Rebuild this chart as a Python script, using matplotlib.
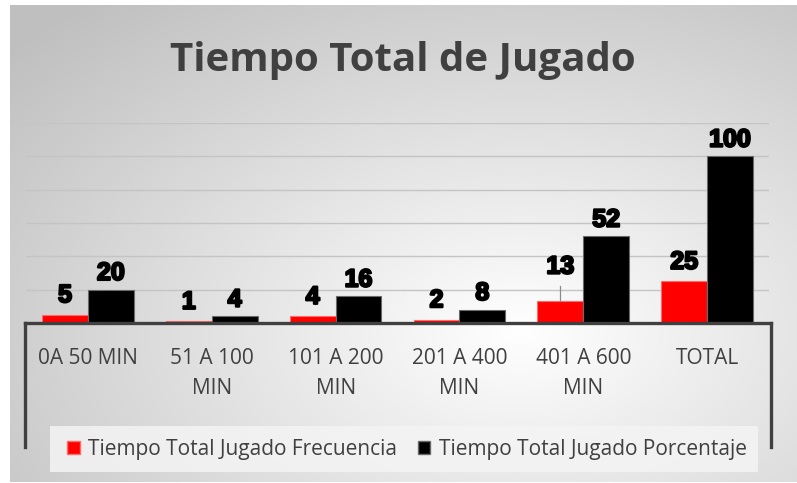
import numpy as np
import matplotlib
matplotlib.use("Agg")
import matplotlib.pyplot as plt
from matplotlib.patches import Patch
from matplotlib.lines import Line2D
import matplotlib.patheffects as pe

# ---- data ----
categories = ["0A 50 MIN", "51 A 100\nMIN", "101 A 200\nMIN", "201 A 400\nMIN", "401 A 600\nMIN", "TOTAL"]
frecuencia = [5, 1, 4, 2, 13, 25]
porcentaje = [20, 4, 16, 8, 52, 100]
series_names = ["Tiempo Total Jugado Frecuencia", "Tiempo Total Jugado Porcentaje"]
title = "Tiempo Total de Jugado"

W, H = 797, 483
fig = plt.figure(figsize=(W / 100, H / 100), dpi=100)
fig.patch.set_facecolor("white")

# ---- radial gradient background ----
bx0, bx1, by0, by1 = 10, 797, 5, 482  # pixel box (top-origin y)
bg = fig.add_axes([bx0 / W, (H - by1) / H, (bx1 - bx0) / W, (by1 - by0) / H])
xs = np.arange(bx0, bx1)
ys = np.arange(by0, by1)
X, Y = np.meshgrid(xs, ys)
cx, cy, rx, ry = 520, 330, 520, 330
d = np.sqrt(((X - cx) / rx) ** 2 + ((Y - cy) / ry) ** 2)
val = 1 - 0.25 * np.clip(d / 1.3, 0, 1)
bg.imshow(np.dstack([val, val, val]), aspect="auto", extent=[0, 1, 0, 1], origin="upper")
bg.set_axis_off()

# ---- main axes ----
left, right, base, top = 26, 769, 323, 123
ax = fig.add_axes([left / W, (H - base) / H, (right - left) / W, (base - top) / H])
ax.set_facecolor("none")
x = np.arange(len(categories))
bw = 0.37
ax.set_xlim(-0.5, len(categories) - 0.5)
ax.set_ylim(0, 120)
for gy in range(20, 121, 20):
    ax.axhline(gy, color="#c4c4c4", lw=1.0, zorder=0)

ax.bar(x - bw / 2, frecuencia, bw, color="#ff0000", edgecolor="#ff6a6a", linewidth=0.8, zorder=2)
ax.bar(x + bw / 2, porcentaje, bw, color="#000000", edgecolor="#6a6a6a", linewidth=0.8, zorder=2)

lab_kw = dict(ha="center", va="baseline", fontsize=18, fontweight="bold",
              family="Liberation Sans", color="black", zorder=4,
              path_effects=[pe.withStroke(linewidth=1.6, foreground="black")])
for i, v in enumerate(frecuencia):
    off = 9
    if i == 4:
        off = 20
        ax.plot([x[i] - bw / 2, x[i] - bw / 2], [v, v + 9.5], color="#8c8c8c", lw=0.9, zorder=3)
    ax.annotate(str(v), (x[i] - bw / 2, v), xytext=(0, off), textcoords="offset points", **lab_kw)
for i, v in enumerate(porcentaje):
    ax.annotate(str(v), (x[i] + bw / 2, v), xytext=(0, 7), textcoords="offset points", **lab_kw)

ax.set_yticks([])
ax.set_xticks(x)
ax.set_xticklabels(categories, fontsize=15, family="Open Sans", color="#404040", linespacing=1.55)
ax.tick_params(axis="x", length=0, pad=18)
for s in ax.spines.values():
    s.set_visible(False)

# ---- thick category-axis frame ----
lc = "#404040"
def fl(xp, yp):
    fig.add_artist(Line2D([p / W for p in xp], [(H - p) / H for p in yp], color=lc, lw=2.4,
                          solid_capstyle="projecting", zorder=5))
fl([25, 771], [323, 323])
fl([25, 25], [323, 447])
fl([771, 771], [323, 447])

# ---- title ----
fig.text(403 / W, (H - 60) / H, title, ha="center", va="center", fontsize=29,
         fontweight="bold", family="Open Sans", color="#404040")

# ---- legend ----
frame = fig.add_artist(plt.Rectangle((50 / W, (H - 472) / H), 708 / W, 46 / H,
                                     transform=fig.transFigure, facecolor="#f4f4f4",
                                     edgecolor="none", alpha=0.85, zorder=1))
handles = [Patch(facecolor="#ff0000", edgecolor="#ff6a6a", label=series_names[0]),
           Patch(facecolor="#000000", edgecolor="#6a6a6a", label=series_names[1])]
leg = fig.legend(handles=handles, loc="center", ncol=2,
                 bbox_to_anchor=(407 / W, (H - 449) / H),
                 prop={"family": "Open Sans", "size": 15}, labelcolor="#404040",
                 handlelength=0.6, handleheight=0.6, handletextpad=0.4,
                 frameon=False, borderaxespad=0, columnspacing=1.0)

fig.savefig("out.png", dpi=100)
